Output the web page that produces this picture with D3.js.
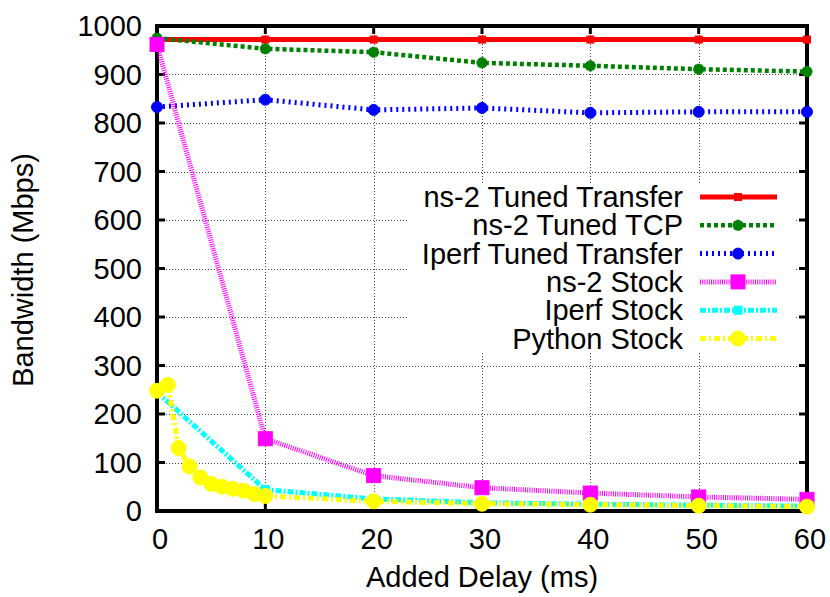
<!DOCTYPE html>
<html>
<head>
<meta charset="utf-8">
<script src="https://cdn.jsdelivr.net/npm/d3@7"></script>
<style>
  body { margin: 0; background: #fff; }
  text { font-family: "Liberation Sans", Arial, sans-serif; fill: #000; }
</style>
</head>
<body>
<div class="chart"></div>
<script>
// data
var delays = [0, 10, 20, 30, 40, 50, 60];
var pythonDelays = [0, 1, 2, 3, 4, 5, 6, 7, 8, 9, 10, 20, 30, 40, 50, 60];

var ns2TunedTransfer = [972, 972, 972, 972, 972, 972, 972];
var ns2TunedTcp = [975, 953, 946, 924, 918, 911, 906];
var iperfTunedTransfer = [833, 848, 827, 831, 821, 823, 823];
var ns2Stock = [962, 149, 73, 48, 37, 29, 24];
var iperfStock = [245, 44, 25, 17, 14, 12, 10];
var pythonStock = [248, 260, 130, 92, 69, 56, 50, 46, 42, 35, 31, 20, 15, 13, 11, 9];

var xTicks = [0, 10, 20, 30, 40, 50, 60];
var yTicks = [0, 100, 200, 300, 400, 500, 600, 700, 800, 900, 1000];

var svgWidth = 830, svgHeight = 597;
var plotLeft = 157, plotRight = 807, plotTop = 26, plotBottom = 511;
var fontSize = "29px";

var svg = d3.select(".chart").append("svg")
  .attr("width", svgWidth)
  .attr("height", svgHeight);

var x = d3.scaleLinear().domain([0, 60]).range([plotLeft, plotRight]);
var y = d3.scaleLinear().domain([0, 1000]).range([plotBottom, plotTop]);

// grid
var grid = svg.append("g")
  .attr("stroke", "#444")
  .attr("stroke-width", 1)
  .attr("stroke-dasharray", "1,2");
grid.selectAll(".gy").data(yTicks.slice(1, -1)).enter().append("line")
  .attr("x1", plotLeft).attr("x2", plotRight)
  .attr("y1", function(d) { return Math.round(y(d)) + 0.5; })
  .attr("y2", function(d) { return Math.round(y(d)) + 0.5; });
grid.selectAll(".gx").data(xTicks.slice(1, -1)).enter().append("line")
  .attr("y1", plotTop).attr("y2", plotBottom)
  .attr("x1", function(d) { return Math.round(x(d)) + 0.5; })
  .attr("x2", function(d) { return Math.round(x(d)) + 0.5; });

// key background hides the grid
svg.append("rect")
  .attr("x", 407).attr("y", 183)
  .attr("width", 388).attr("height", 169)
  .attr("fill", "#fff");

// ticks (mirrored on all four sides)
var ticks = svg.append("g").attr("stroke", "#000").attr("stroke-width", 3);
yTicks.forEach(function(d) {
  ticks.append("line").attr("x1", plotLeft).attr("x2", plotLeft + 8).attr("y1", y(d)).attr("y2", y(d));
  ticks.append("line").attr("x1", plotRight).attr("x2", plotRight - 8).attr("y1", y(d)).attr("y2", y(d));
});
xTicks.forEach(function(d) {
  ticks.append("line").attr("y1", plotBottom).attr("y2", plotBottom - 8).attr("x1", x(d)).attr("x2", x(d));
  ticks.append("line").attr("y1", plotTop).attr("y2", plotTop + 8).attr("x1", x(d)).attr("x2", x(d));
});

// border
svg.append("rect")
  .attr("x", plotLeft).attr("y", plotTop)
  .attr("width", plotRight - plotLeft).attr("height", plotBottom - plotTop)
  .attr("fill", "none")
  .attr("stroke", "#000")
  .attr("stroke-width", 4);

// tick labels
svg.selectAll(".ylab").data(yTicks).enter().append("text")
  .attr("x", 142)
  .attr("y", function(d) { return y(d) + 10; })
  .attr("text-anchor", "end")
  .style("font-size", fontSize)
  .text(function(d) { return d; });

svg.selectAll(".xlab").data(xTicks).enter().append("text")
  .attr("x", function(d) { return x(d) + 3; })
  .attr("y", 549)
  .attr("text-anchor", "middle")
  .style("font-size", fontSize)
  .text(function(d) { return d; });

// axis titles
svg.append("text")
  .attr("x", 482).attr("y", 587)
  .attr("text-anchor", "middle")
  .style("font-size", fontSize)
  .text("Added Delay (ms)");

svg.append("text")
  .attr("transform", "translate(33,270) rotate(-90)")
  .attr("text-anchor", "middle")
  .style("font-size", fontSize)
  .text("Bandwidth (Mbps)");

// marker shapes
function square(s) {
  return function(g, d) {
    g.append("rect").attr("x", d[0] - s / 2).attr("y", d[1] - s / 2)
      .attr("width", s).attr("height", s);
  };
}
function circle(r) {
  return function(g, d) {
    g.append("circle").attr("cx", d[0]).attr("cy", d[1]).attr("r", r);
  };
}
function star(s) {
  return function(g, d) {
    var h = s / 2, k = h * 0.7;
    g.append("path")
      .attr("d", "M" + (d[0] - h) + "," + d[1] + "h" + s +
                 "M" + d[0] + "," + (d[1] - h) + "v" + s +
                 "M" + (d[0] - k) + "," + (d[1] - k) + "l" + 2 * k + "," + 2 * k +
                 "M" + (d[0] - k) + "," + (d[1] + k) + "l" + 2 * k + "," + -2 * k)
      .attr("stroke-width", 3.5)
      .attr("fill", "none");
  };
}

var series = [
  { name: "ns-2 Tuned Transfer", xs: delays, ys: ns2TunedTransfer, color: "#ff0000", width: 5, dash: null, marker: square(7) },
  { name: "ns-2 Tuned TCP", xs: delays, ys: ns2TunedTcp, color: "#008000", width: 4.5, dash: "4,3", marker: star(11) },
  { name: "Iperf Tuned Transfer", xs: delays, ys: iperfTunedTransfer, color: "#0000ff", width: 5, dash: "2,4", marker: circle(5.5) },
  { name: "ns-2 Stock", xs: delays, ys: ns2Stock, color: "#ff00ff", width: 5, dash: "1,1.2", marker: square(14) },
  { name: "Iperf Stock", xs: delays, ys: iperfStock, color: "#00ffff", width: 5, dash: "6,2,2,2", marker: square(8) },
  { name: "Python Stock", xs: pythonDelays, ys: pythonStock, color: "#ffff00", width: 5, dash: "6,3,2,3", marker: circle(7.5) }
];

var line = d3.line();

series.forEach(function(s, i) {
  var pts = s.xs.map(function(v, j) { return [x(v), y(s.ys[j])]; });
  var g = svg.append("g");
  g.append("path")
    .attr("d", line(pts))
    .attr("fill", "none")
    .attr("stroke", s.color)
    .attr("stroke-width", s.width)
    .attr("stroke-dasharray", s.dash);
  var mg = g.append("g").attr("fill", s.color).attr("stroke", s.color);
  pts.forEach(function(p) { s.marker(mg, p); });

  // key entry
  var ky = 197 + i * 28.3;
  svg.append("text")
    .attr("x", 683).attr("y", ky + 10)
    .attr("text-anchor", "end")
    .style("font-size", fontSize)
    .text(s.name);
  var kg = svg.append("g");
  kg.append("line")
    .attr("x1", 700).attr("x2", 777)
    .attr("y1", ky).attr("y2", ky)
    .attr("stroke", s.color)
    .attr("stroke-width", s.width)
    .attr("stroke-dasharray", s.dash);
  var kmg = kg.append("g").attr("fill", s.color).attr("stroke", s.color);
  s.marker(kmg, [738, ky]);
});
</script>
</body>
</html>
